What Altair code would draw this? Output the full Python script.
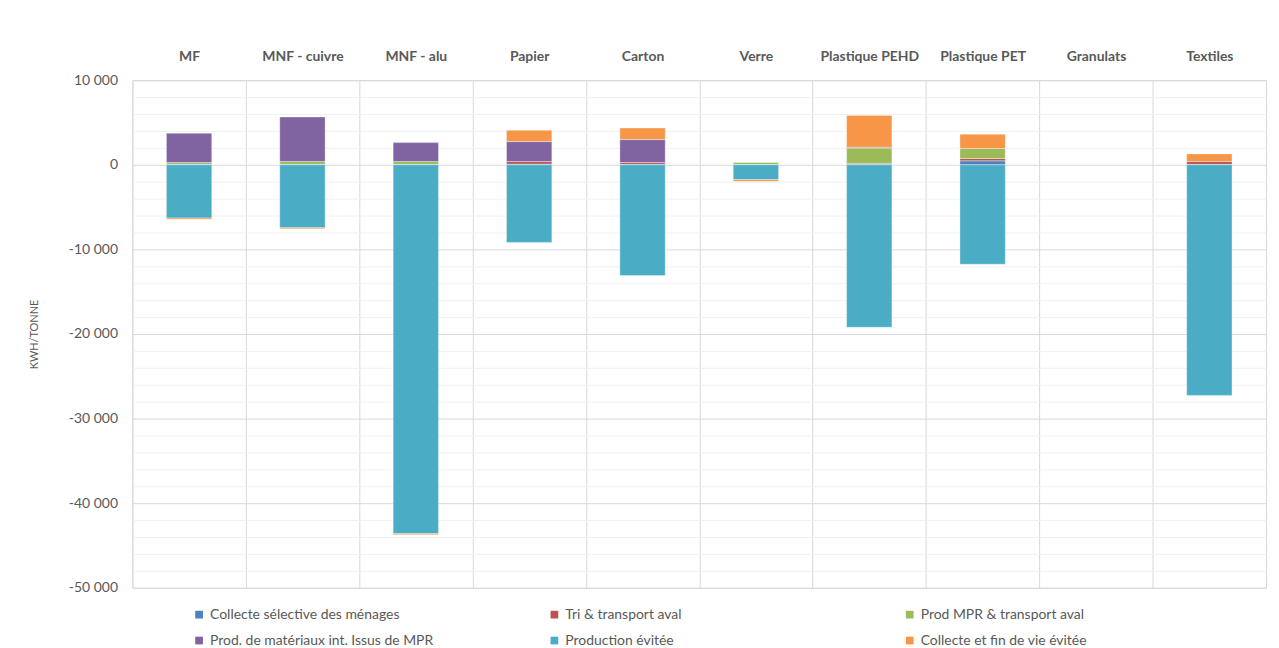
import altair as alt
import pandas as pd

categories = ["MF", "MNF - cuivre", "MNF - alu", "Papier", "Carton", "Verre",
              "Plastique PEHD", "Plastique PET", "Granulats", "Textiles"]

series = ["Collecte sélective des ménages", "Tri & transport aval", "Prod MPR & transport aval",
          "Prod. de matériaux int. Issus de MPR", "Production évitée", "Collecte et fin de vie évitée"]

collecte = [30, 30, 30, 80, 50, 40, 70, 470, 0, 60]
tri = [30, 30, 30, 300, 220, 10, 100, 270, 0, 330]
prod_mpr = [210, 330, 330, 0, 0, 220, 1810, 1180, 0, 0]
prod_mat = [3460, 5260, 2230, 2360, 2710, 0, 100, 0, 0, 0]
prod_evitee = [-6300, -7450, -43600, -9180, -13100, -1760, -19210, -11760, 0, -27260]
fin_vie = [-150, -120, -120, 1340, 1370, -200, 3760, 1690, 0, 900]

colors = ["#4F81BD", "#C0504D", "#9BBB59", "#8064A2", "#4BACC6", "#F79646"]

rows = []
for si, (name, vals) in enumerate(zip(series, [collecte, tri, prod_mpr, prod_mat, prod_evitee, fin_vie])):
    for c, v in zip(categories, vals):
        rows.append({"cat": c, "serie": name, "idx": si, "val": v})
df = pd.DataFrame(rows)

label_expr = ("datum.value % 10000 === 0 ? "
              "replace(replace(format(datum.value, ','), ',', ' '), '\u2212', '-') : ''")

chart = alt.Chart(df).transform_filter(
    "datum.val != 0"
).mark_bar(
    width=alt.RelativeBandSize(0.4), stroke="white", strokeWidth=0.6, strokeOpacity=0.6
).encode(
    x=alt.X("cat:N", sort=categories, title=None,
            scale=alt.Scale(domain=categories, paddingInner=0, paddingOuter=0),
            axis=alt.Axis(orient="top", labelAngle=0, domain=False, ticks=False,
                          tickBand="extent", grid=True, gridColor="#d9d9d9", gridWidth=1,
                          labelFont="Lato", labelFontSize=14, labelFontWeight="bold",
                          labelColor="#595959", labelPadding=17)),
    y=alt.Y("val:Q", stack="zero", title="KWH/TONNE",
            scale=alt.Scale(domain=[-50000, 10000], nice=False, zero=False),
            axis=alt.Axis(values=list(range(-50000, 10001, 2000)), labelExpr=label_expr,
                          gridColor=alt.condition("datum.value % 10000 === 0",
                                                  alt.value("#d9d9d9"), alt.value("#f0f0f0")),
                          ticks=False, domain=False, labelPadding=15, titlePadding=29,
                          labelFont="Lato", labelFontSize=14, labelColor="#595959",
                          titleFont="Lato", titleFontSize=11, titleFontWeight="normal",
                          titleColor="#595959")),
    color=alt.Color("serie:N", scale=alt.Scale(domain=series, range=colors),
                    legend=alt.Legend(title=None, orient="none", legendX=60, legendY=530,
                                      direction="horizontal", columns=3, symbolType="square",
                                      symbolSize=60, symbolStrokeWidth=0, labelFont="Lato",
                                      labelFontSize=14, labelColor="#595959", columnPadding=114,
                                      rowPadding=12, gridAlign="all", labelLimit=400)),
    order=alt.Order("idx:Q"),
).properties(
    width=1139, height=510,
    padding={"left": 20, "top": 40, "right": 5, "bottom": 5},
    background="white",
).configure_view(stroke="#d9d9d9", strokeWidth=1)

chart.save("out.html", embed_options={"renderer": "svg", "actions": False})
